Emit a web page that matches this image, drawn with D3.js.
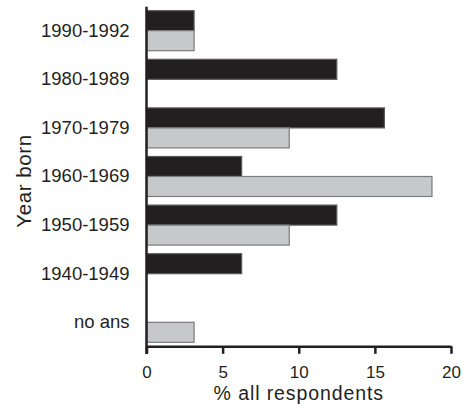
<!DOCTYPE html>
<html>
<head>
<meta charset="utf-8">
<script src="https://cdn.jsdelivr.net/npm/d3@7"></script>
<style>
  body { margin: 0; background: #fff; }
  svg { display: block; font-family: "Liberation Sans", Arial, Helvetica, sans-serif; }
</style>
</head>
<body>
<svg id="chart" width="465" height="409"></svg>
<script>
// age groups, top to bottom
const categories = ["1990-1992", "1980-1989", "1970-1979", "1960-1969", "1950-1959", "1940-1949", "no ans"];
const seriesKeys = ["dark", "light"];
// % of all respondents
const darkValues = [3.125, 12.5, 15.625, 6.25, 12.5, 6.25, 0];
const lightValues = [3.125, 0, 9.375, 18.75, 9.375, 0, 3.125];
const xTicks = [0, 5, 10, 15, 20];

const ink = "#231f20";
const fills = { dark: "#231f20", light: "#c7c8ca" };
const strokes = { dark: "#5a5a5c", light: "#7a7b7d" };

const svg = d3.select("#chart");

const x = d3.scaleLinear().domain([0, 20]).range([146.5, 451]);
const y0 = d3.scaleBand().domain(categories).range([7, 346]).paddingInner(0.177).paddingOuter(0.076);
const y1 = d3.scaleBand().domain(seriesKeys).range([0, y0.bandwidth()]);

const rows = categories.map((c, i) => ({ cat: c, dark: darkValues[i], light: lightValues[i] }));

// bars
const groups = svg.append("g")
  .selectAll("g")
  .data(rows)
  .join("g")
  .attr("transform", d => `translate(0,${y0(d.cat)})`);

groups.selectAll("rect")
  .data(d => seriesKeys.map(k => ({ key: k, value: d[k] })).filter(e => e.value > 0))
  .join("rect")
  .attr("x", x(0))
  .attr("y", d => y1(d.key))
  .attr("width", d => x(d.value) - x(0))
  .attr("height", y1.bandwidth())
  .attr("fill", d => fills[d.key])
  .attr("stroke", d => strokes[d.key])
  .attr("stroke-width", 1.2);

// x axis
const xAxis = svg.append("g")
  .attr("transform", `translate(0,${346.3})`)
  .call(d3.axisBottom(x).tickValues(xTicks).tickSize(7.5).tickPadding(12).tickSizeOuter(0));
xAxis.select(".domain").attr("stroke", ink).attr("stroke-width", 2.5);
xAxis.selectAll(".tick line").attr("stroke", ink).attr("stroke-width", 2.5);
xAxis.selectAll(".tick text")
  .attr("fill", ink)
  .style("font-size", "17px")
  .style("font-family", "inherit");

// y axis (line only, no ticks)
const yAxis = svg.append("g")
  .attr("transform", `translate(${146.5},0)`)
  .call(d3.axisLeft(y0).tickSize(0).tickPadding(17));
yAxis.select(".domain")
  .attr("d", `M0,6.7V354`)
  .attr("stroke", ink)
  .attr("stroke-width", 2.5);
yAxis.selectAll(".tick text")
  .attr("fill", ink)
  .style("font-size", "18.5px")
  .style("font-family", "inherit");

// axis titles
svg.append("text")
  .attr("x", x(10))
  .attr("y", 400)
  .attr("text-anchor", "middle")
  .attr("fill", ink)
  .style("font-size", "19.5px")
  .style("letter-spacing", "0.9px")
  .text("% all respondents");

svg.append("text")
  .attr("transform", "translate(31,181) rotate(-90)")
  .attr("text-anchor", "middle")
  .attr("fill", ink)
  .style("font-size", "20.5px")
  .style("letter-spacing", "0.6px")
  .text("Year born");
</script>
</body>
</html>
